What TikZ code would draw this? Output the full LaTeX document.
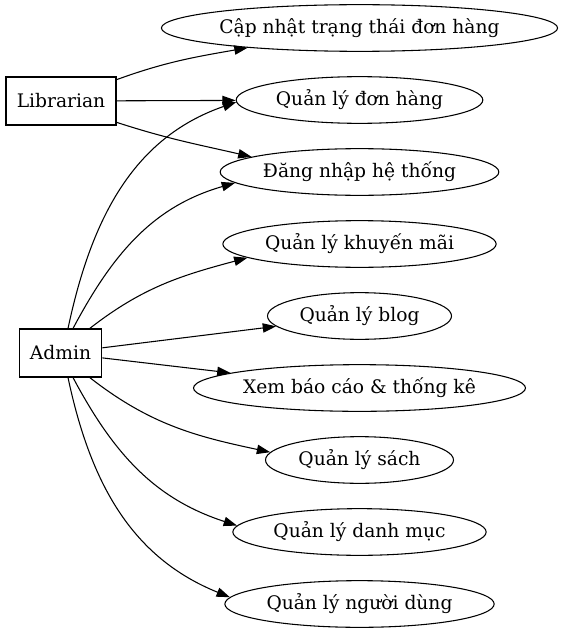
\documentclass[tikz,border=0pt]{standalone}
\usepackage{fontspec}
\setmainfont{DejaVu Serif}
\usetikzlibrary{arrows.meta,shapes.geometric,positioning}
\tikzset{
    actor/.style={
           rectangle,
           draw=black, line width=0.8pt,
           minimum height=36pt,
           inner sep=0pt,
           text centered,
           },
    usecase/.style={
           ellipse,
           draw=black, line width=0.8pt,
           minimum height=35pt,
           inner sep=0pt,
           },
}

\begin{document}
\begin{tikzpicture}[x=0.75pt,y=0.75pt,>={Triangle[length=10pt,width=7pt]},line width=0.8pt,node distance=54pt,font=\fontsize{14}{17}\selectfont]
	\useasboundingbox (0,0) rectangle (563,-635);

	\node[usecase,minimum width=295.5pt] (capnhat) at (359.5,-28) {Cập nhật trạng thái đơn hàng};
	\node[usecase,minimum width=185pt]   (donhang)   [below of=capnhat]   {Quản lý đơn hàng};
	\node[usecase,minimum width=209pt]   (dangnhap)  [below of=donhang]   {Đăng nhập hệ thống};
	\node[usecase,minimum width=205pt]   (khuyenmai) [below of=dangnhap]  {Quản lý khuyến mãi};
	\node[usecase,minimum width=138pt]   (blog)      [below of=khuyenmai] {Quản lý blog};
	\node[usecase,minimum width=249pt]   (baocao)    [below of=blog]      {Xem báo cáo \& thống kê};
	\node[usecase,minimum width=141pt]   (sach)      [below of=baocao]    {Quản lý sách};
	\node[usecase,minimum width=190pt]   (danhmuc)   [below of=sach]      {Quản lý danh mục};
	\node[usecase,minimum width=202pt]   (nguoidung) [below of=danhmuc]   {Quản lý người dùng};

	\node[actor,minimum width=82.5pt] (lib)   at (61,-101)   {Librarian};
	\node[actor,minimum width=62pt]   (admin) at (60.5,-353) {Admin};

	\path[->] (lib.21)  edge [out=20,in=190]  (capnhat.190);
	\path[->] (lib)     edge                  (donhang);
	\path[->] (lib.-21) edge [out=-18,in=167] (dangnhap.172);

	\path[->] (admin.73) edge [out=78,in=199] (donhang.181);
	\path[->] (admin.63) edge [out=62,in=196] (dangnhap.185);
	\path[->] (admin.40) edge [out=38,in=195] (khuyenmai.187);
	\path[->] (admin)    edge                 (blog);
	\path[->] (admin)    edge                 (baocao);
	\path[->] (admin.-40) edge [out=-38,in=168] (sach.175);
	\path[->] (admin.-63) edge [out=-62,in=162] (danhmuc.177);
	\path[->] (admin.-73) edge [out=-78,in=158] (nguoidung.177);

\end{tikzpicture}
\end{document}
